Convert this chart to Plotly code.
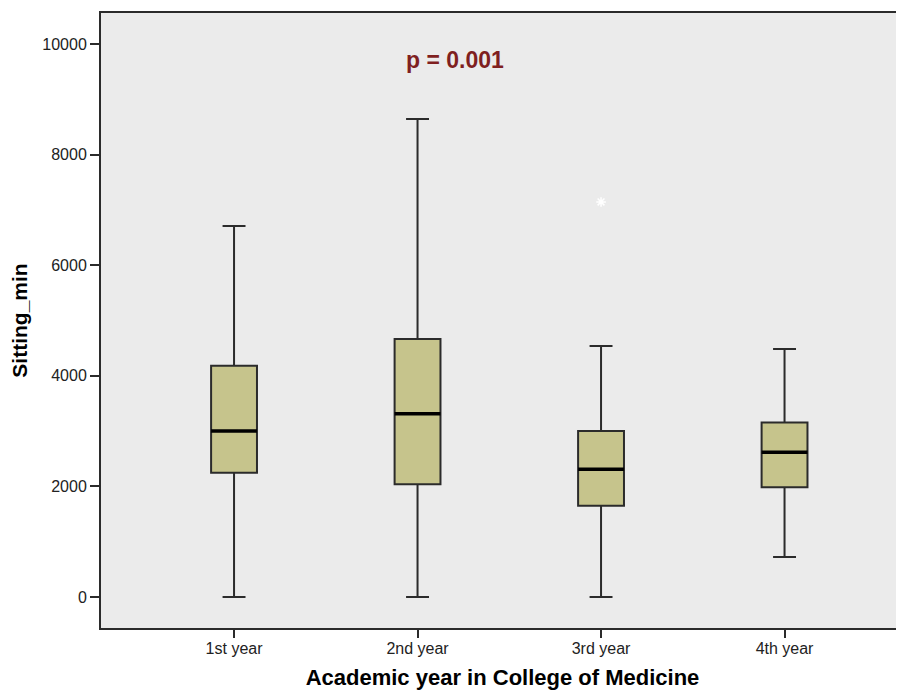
import plotly.graph_objects as go

categories = ["1st year", "2nd year", "3rd year", "4th year"]
lower_whisker = [0, 0, 0, 723]
q1 = [2245, 2038, 1651, 1984]
median = [3000, 3315, 2309, 2617]
q3 = [4180, 4665, 3002, 3155]
upper_whisker = [6709, 8644, 4539, 4485]
outlier_cat = ["3rd year"]
outlier_val = [7143]
y_ticks = [0, 2000, 4000, 6000, 8000, 10000]

xpos = list(range(len(categories)))
box_w = 0.25
fill = "#C6C48C"
edge = "#2B2B2B"

fig = go.Figure()
fig.add_trace(go.Box(
    x=xpos, q1=q1, median=median, q3=q3,
    lowerfence=lower_whisker, upperfence=upper_whisker,
    width=box_w, whiskerwidth=0.5,
    fillcolor=fill, line=dict(color=edge, width=2),
    boxpoints=False, hoverinfo="skip", showlegend=False,
))
# thicker median lines
mx, my = [], []
for i, m in zip(xpos, median):
    mx += [i - box_w / 2, i + box_w / 2, None]
    my += [m, m, None]
fig.add_trace(go.Scatter(x=mx, y=my, mode="lines",
                         line=dict(color="black", width=3.5),
                         showlegend=False, hoverinfo="skip"))
fig.add_trace(go.Scatter(
    x=[xpos[categories.index(c)] for c in outlier_cat], y=outlier_val,
    mode="markers", marker=dict(symbol="asterisk-open", size=8, color="white",
                                line=dict(color="white", width=1.5)),
    showlegend=False, hoverinfo="skip"))

fig.add_annotation(x=1.204, y=9711, text="<b>p = 0.001</b>", showarrow=False,
                   font=dict(family="Liberation Sans, Arial", size=23, color="#7F1F1F"))

# the page body has an 8px margin, so the figure is sized to fit the window
fig.update_layout(
    width=896, height=682,
    margin=dict(l=93, r=0, t=5, b=62),
    paper_bgcolor="white", plot_bgcolor="#EBEBEB",
    font=dict(family="Liberation Sans, Arial", size=16, color="#222"),
    xaxis=dict(range=[-0.725, 3.651], tickvals=xpos, ticktext=categories,
               automargin=False, ticklabelstandoff=-3,
               showgrid=False, zeroline=False, showline=True, linecolor=edge,
               linewidth=2, mirror=True, ticks="outside", ticklen=8,
               tickcolor=edge, tickwidth=2,
               title=dict(text="<b>Academic year in College of Medicine</b>",
                          font=dict(size=22, color="black"), standoff=17)),
    yaxis=dict(range=[-560, 10560], tickvals=y_ticks, tickformat="d",
               automargin=False,
               showgrid=False, zeroline=False, showline=True, linecolor=edge,
               linewidth=2, ticks="outside", ticklen=9, tickcolor=edge,
               tickwidth=2,
               title=dict(text="<b>Sitting_min</b>",
                          font=dict(size=21, color="black"), standoff=10)),
)
fig.write_html("out.html")
